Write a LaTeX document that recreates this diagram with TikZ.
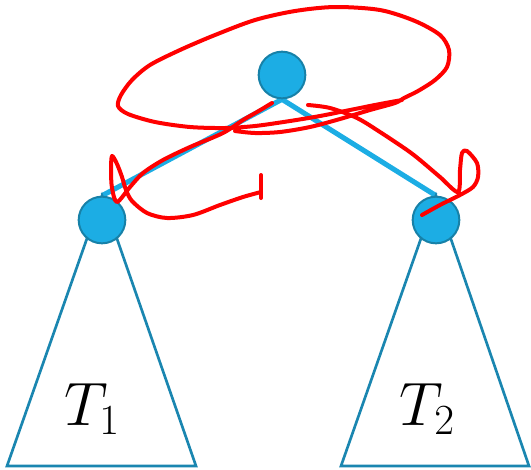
\RequirePackage{fix-cm}
\documentclass[tikz,border=0pt]{standalone}
\usepackage{fontspec}
\usepackage{tikz}
\usepackage{xcolor}
\usetikzlibrary{backgrounds}
\newfontfamily\headfont{Carlito}
\definecolor{vfill}{HTML}{1CADE4}
\definecolor{vline}{HTML}{1781A8}
\definecolor{trib}{HTML}{1A86B0}
\definecolor{pen}{HTML}{FF0000}
\tikzset{
  vert/.style={circle, fill=vfill, draw=vline, line width=1.5pt, minimum size=35pt, inner sep=0pt},
  link/.style={draw=vfill, line width=3.8pt},
  tri/.style={draw=trib, line width=2pt, line join=miter},
  ink/.style={draw=pen, line width=3pt, line cap=round, line join=round},
  lbl/.style={font=\fontsize{46}{50}\selectfont, inner sep=0pt, anchor=base west},
  ttl/.style={font=\headfont\fontsize{58}{64}\selectfont, inner sep=0pt, anchor=base west},
}

\begin{document}
\begin{tikzpicture}[x=0.75pt, y=-0.75pt]
  \useasboundingbox (0,0) rectangle (531,469);
  % ---------------- title, cut at the top ----------------
  \begin{scope}
    \clip (0,0) rectangle (531,469);
    \node[ttl] (head) at (-43,-13) {When a u connects};
  \end{scope}

  % ---------------- vertices ----------------
  \node[vert] (root) at (282,75) {};
  \node[vert] (left) at (102,220) {};
  \node[vert] (right) at (436,220) {};

  % ---------------- edges and subtrees ----------------
  \coordinate (l1) at (7,466);
  \coordinate (l2) at (196,466);
  \coordinate (r1) at (341,466);
  \coordinate (r2) at (529,466);
  \begin{scope}[on background layer]
    \draw[link] (root.south) -- (left.north);
    \draw[link] (root.south) -- (right.north);
    \draw[tri] (left.north) -- (l1) -- (l2) -- cycle;
    \draw[tri] (right.north) -- (r1) -- (r2) -- cycle;
  \end{scope}
  \node[lbl] (t1) at (64,425) {$T_1$};
  \node[lbl] (t2) at (399,425) {$T_2$};

  % ---------------- red pen ----------------
  \draw[ink] plot[smooth, tension=0.5] coordinates {(272,103) (257,112) (243,120) (223,133) (190,147)
    (163,160) (143,173) (130,187) (117,202) (112,188) (111,170) (112,156) (117,164) (122,177)
    (126,190) (132,201) (147,213) (167,218) (193,215) (220,205) (243,197) (261,192)};
  \draw[ink] (261,175) -- (261,198);
  \draw[ink] plot[smooth, tension=0.5] coordinates {(402,100) (380,104) (350,110) (320,116) (290,121)
    (255,126) (225,128) (190,127) (155,122) (128,114) (118,106) (121,95) (132,80) (150,65) (180,50)
    (215,35) (255,20) (295,11) (335,7) (380,10) (415,21) (440,35) (449,50) (447,67) (435,80)
    (418,91) (404,98) (395,103) (370,110) (340,119) (310,127) (280,132) (255,133) (235,131)};
  \draw[ink] plot[smooth, tension=0.5] coordinates {(308,105) (330,108) (357,118) (380,132) (407,150)
    (420,160) (440,177) (458,192) (460,170) (462,153) (467,151) (477,163) (478,177) (473,187)
    (460,195) (440,205) (422,215)};
\end{tikzpicture}
\end{document}
